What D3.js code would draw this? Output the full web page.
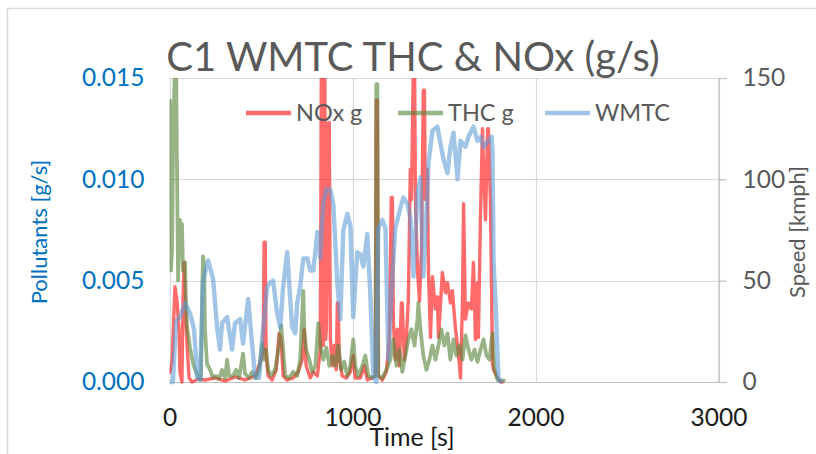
<!DOCTYPE html>
<html>
<head>
<meta charset="utf-8">
<script src="https://cdn.jsdelivr.net/npm/d3@7"></script>
<style>
  body { margin: 0; background: #fff; }
  svg text { font-family: Lato, "Open Sans", sans-serif; }
</style>
</head>
<body>
<svg id="chart" width="816" height="454"></svg>
<script>
// NOx emission rate [g/s] against time [s]
const noxG = [[0,0.0004],[3,0.0005],[14,0.001],[30,0.0047],[41,0.004],[52,0.0026],[57,0.0005],[68,0],[74,0.004],[79,0.0059],[85,0.004],[96,0.0018],[107,0.0002],[123,0],[156,0.00015],[194,0.0001],[249,0.0002],[304,0.00005],[358,0.00025],[413,0.0001],[468,0.0003],[501,0.0011],[512,0.0016],[517,0.0069],[523,0.0069],[528,0.0013],[539,0.0003],[561,0.0001],[583,0.0006],[599,0.0024],[610,0.0021],[621,0.0003],[643,0.0001],[676,0.0002],[703,0.0005],[725,0.0011],[736,0.0026],[747,0.0008],[769,0.0002],[786,0.0005],[808,0.0003],[824,0.0016],[830,0.0159],[836,0.0159],[840,0.0018],[846,0.0159],[849,0.0159],[853,0.0021],[857,0.0026],[868,0.0128],[873,0.0128],[879,0.0021],[890,0.0008],[900,0.0018],[911,0.0006],[917,0.0039],[922,0.0039],[928,0.0011],[944,0.0003],[966,0.0002],[988,0.0005],[1004,0.0013],[1015,0.0002],[1043,0.0002],[1065,0.0008],[1081,0.0001],[1108,0.0002],[1125,0.0003],[1130,0.0139],[1136,0.0139],[1141,0.0003],[1163,0.0001],[1185,0.0005],[1201,0.0021],[1212,0.0091],[1218,0.0091],[1223,0.0031],[1234,0.0011],[1245,0.0026],[1256,0.0008],[1267,0.0039],[1272,0.0039],[1283,0.0011],[1294,0.0021],[1305,0.004],[1316,0.0105],[1322,0.009],[1333,0.0159],[1339,0.0159],[1344,0.009],[1355,0.0055],[1366,0.004],[1377,0.0065],[1387,0.0144],[1393,0.0144],[1398,0.009],[1409,0.0105],[1415,0.0055],[1426,0.0022],[1437,0.0052],[1453,0.0036],[1464,0.0042],[1470,0.0022],[1491,0.0054],[1508,0.0044],[1519,0.0049],[1535,0.0039],[1546,0.0045],[1563,0.0026],[1579,0.0014],[1590,0.0002],[1601,0.004],[1607,0.0088],[1612,0.006],[1617,0.0031],[1634,0.0039],[1650,0.0036],[1661,0.0059],[1672,0.0021],[1683,0.0049],[1688,0.0022],[1699,0.008],[1710,0.0125],[1716,0.0105],[1727,0.008],[1738,0.0125],[1743,0.0125],[1754,0.0088],[1765,0.0009],[1771,0.0006],[1793,0.0002],[1809,0],[1825,0]];

// THC emission rate [g/s] against time [s]
const thcG = [[0,0.0139],[3,0.0139],[8,0.0055],[14,0.0065],[19,0.0114],[30,0.0159],[36,0.0159],[41,0.0105],[47,0.005],[57,0.008],[63,0.0065],[68,0.0078],[74,0.0055],[85,0.0059],[90,0.004],[96,0.0027],[112,0.0017],[129,0.0009],[145,0.0005],[161,0.0002],[172,0.00015],[178,0.004],[183,0.0062],[189,0.0058],[194,0.0026],[205,0.0009],[222,0.0006],[238,0.0002],[254,0.0003],[271,0.00015],[287,0.0006],[304,0.0002],[315,0.0011],[326,0.0003],[348,0.0003],[364,0.0006],[380,0.0002],[402,0.0014],[413,0.0004],[435,0.0002],[452,0.0005],[473,0.0002],[490,0.0006],[506,0.0019],[517,0.0011],[528,0.0016],[539,0.0006],[555,0.0003],[577,0.0006],[599,0.0018],[610,0.0028],[621,0.0016],[632,0.0003],[654,0.0002],[676,0.0005],[698,0.0003],[714,0.0011],[731,0.0045],[736,0.0026],[747,0.0016],[764,0.0011],[780,0.0005],[797,0.0008],[813,0.0029],[824,0.0018],[840,0.0011],[857,0.0017],[873,0.0008],[890,0.0013],[906,0.0008],[922,0.0018],[939,0.0006],[955,0.001],[972,0.0003],[988,0.0008],[1004,0.0021],[1015,0.0008],[1032,0.0003],[1054,0.0008],[1070,0.0013],[1086,0.0003],[1108,0.0002],[1125,0.0003],[1130,0.0147],[1136,0.0147],[1141,0.0003],[1163,0.0002],[1185,0.0006],[1207,0.0011],[1223,0.0021],[1240,0.0008],[1256,0.0016],[1272,0.0005],[1289,0.0013],[1305,0.0021],[1322,0.0026],[1339,0.0018],[1355,0.0031],[1360,0.0039],[1371,0.0026],[1387,0.0013],[1404,0.0006],[1420,0.0011],[1437,0.0018],[1453,0.0011],[1470,0.0018],[1486,0.0026],[1502,0.0018],[1519,0.0024],[1535,0.0011],[1552,0.0021],[1568,0.0013],[1585,0.0018],[1601,0.0011],[1617,0.0023],[1634,0.0016],[1650,0.0011],[1667,0.0016],[1683,0.001],[1700,0.0016],[1716,0.0021],[1732,0.0013],[1749,0.0011],[1760,0.0021],[1765,0.0024],[1776,0.0006],[1793,0.0001],[1836,0.00005]];

// WMTC drive cycle vehicle speed [km/h] against time [s]
const wmtcSpeed = [[0,0],[19,0],[30,20],[36,30],[57,32],[85,39],[112,34],[134,26],[145,12],[151,2],[167,1],[183,50],[211,60],[238,51],[260,27],[276,16],[287,29],[315,32],[342,16],[358,29],[386,31],[402,19],[430,41],[451,19],[468,2],[490,2],[506,21],[534,47],[550,49],[566,50],[588,34],[605,27],[621,47],[643,64],[670,27],[687,24],[698,39],[714,47],[731,61],[753,61],[769,55],[786,55],[808,74],[824,61],[840,88],[857,95],[879,95],[895,88],[917,49],[933,31],[950,75],[972,83],[988,77],[1004,32],[1026,64],[1043,63],[1059,57],[1081,73],[1097,44],[1114,3],[1130,0],[1141,76],[1163,80],[1180,76],[1196,11],[1218,52],[1234,76],[1262,86],[1278,91],[1300,88],[1316,81],[1333,52],[1355,93],[1371,101],[1387,52],[1409,93],[1415,108],[1437,124],[1464,126],[1480,118],[1497,110],[1519,103],[1535,116],[1552,123],[1574,100],[1590,119],[1617,116],[1634,121],[1661,126],[1683,119],[1700,121],[1716,116],[1743,119],[1760,121],[1765,114],[1771,59],[1782,39],[1798,1],[1820,0]];

const timeTicks = [0, 1000, 2000, 3000];
const pollutantTicks = [0, 0.005, 0.010, 0.015];
const speedTicks = [0, 50, 100, 150];
const seriesNames = ["NOx g", "THC g", "WMTC"];

const svg = d3.select("#chart");
const plot = { left: 169.5, right: 718.5, top: 78, bottom: 382 };

const x = d3.scaleLinear().domain([0, 3000]).range([plot.left, plot.right]);
const yL = d3.scaleLinear().domain([0, 0.015]).range([plot.bottom, plot.top]);
const yR = d3.scaleLinear().domain([0, 150]).range([plot.bottom, plot.top]);

// outer chart frame
svg.append("rect")
  .attr("x", 7.5).attr("y", 8.5).attr("width", 900).attr("height", 600)
  .attr("fill", "none").attr("stroke", "#d9d9d9").attr("stroke-width", 1.5);

// gridlines
const grid = svg.append("g").attr("stroke", "#d9d9d9").attr("stroke-width", 1.2);
grid.selectAll("line.h").data(pollutantTicks.slice(1)).join("line")
  .attr("x1", plot.left).attr("x2", plot.right)
  .attr("y1", d => Math.round(yL(d)) + 0.5).attr("y2", d => Math.round(yL(d)) + 0.5);
grid.selectAll("line.v").data(timeTicks).join("line")
  .attr("y1", plot.top).attr("y2", plot.bottom)
  .attr("x1", d => Math.round(x(d)) + 0.5).attr("x2", d => Math.round(x(d)) + 0.5);

// left axis (pollutants)
const axL = svg.append("g").attr("transform", `translate(${plot.left},0)`)
  .call(d3.axisLeft(yL).tickValues(pollutantTicks).tickFormat(d3.format(".3f")).tickSize(0).tickPadding(25));
axL.select(".domain").remove();
axL.selectAll("text").attr("fill", "#0070c0").style("font-size", "24.5px");

// right axis (speed)
const axR = svg.append("g").attr("transform", `translate(${plot.right},0)`)
  .call(d3.axisRight(yR).tickValues(speedTicks).tickSize(8).tickPadding(16));
axR.select(".domain").attr("stroke", "#bfbfbf").attr("stroke-width", 1.2);
axR.selectAll("line").attr("stroke", "#bfbfbf").attr("stroke-width", 1.2);
axR.selectAll("text").attr("fill", "#595959").style("font-size", "24.5px");

// bottom axis (time)
const axB = svg.append("g").attr("transform", `translate(0,${plot.bottom})`)
  .call(d3.axisBottom(x).tickValues(timeTicks).tickFormat(d3.format("d")).tickSize(0).tickPadding(27));
axB.select(".domain").attr("stroke", "#bfbfbf").attr("stroke-width", 1.2)
  .attr("d", `M${plot.left},0.5H${plot.right + 8}`);
axB.selectAll("text").attr("fill", "#1a1a1a").style("font-size", "24.5px");

// series
svg.append("defs").append("clipPath").attr("id", "plotClip")
  .append("rect").attr("x", plot.left).attr("y", plot.top)
  .attr("width", plot.right - plot.left).attr("height", plot.bottom - plot.top + 4);

const lineL = d3.line().x(d => x(d[0])).y(d => yL(d[1]));
const lineR = d3.line().x(d => x(d[0])).y(d => yR(d[1]));
const series = svg.append("g").attr("clip-path", "url(#plotClip)");

const styles = [
  { color: "rgba(255,0,0,0.58)", width: 3.4 },
  { color: "rgba(84,130,53,0.6)", width: 3.8 },
  { color: "rgba(91,155,213,0.58)", width: 4.4 }
];

series.append("path").datum(noxG).attr("d", lineL)
  .attr("fill", "none").attr("stroke", styles[0].color).attr("stroke-width", styles[0].width)
  .attr("stroke-linejoin", "round");
series.append("path").datum(thcG).attr("d", lineL)
  .attr("fill", "none").attr("stroke", styles[1].color).attr("stroke-width", styles[1].width)
  .attr("stroke-linejoin", "round");
series.append("path").datum(wmtcSpeed).attr("d", lineR)
  .attr("fill", "none").attr("stroke", styles[2].color).attr("stroke-width", styles[2].width)
  .attr("stroke-linejoin", "round");

// title
svg.append("text").attr("x", 413).attr("y", 71).attr("text-anchor", "middle")
  .attr("fill", "#595959").style("font-size", "40px")
  .text("C1 WMTC THC & NOx (g/s)");

// axis titles
svg.append("text").attr("transform", "translate(47,232) rotate(-90)")
  .attr("text-anchor", "middle").attr("fill", "#0070c0").style("font-size", "22px")
  .text("Pollutants [g/s]");
svg.append("text").attr("transform", "translate(805,232) rotate(-90)")
  .attr("text-anchor", "middle").attr("fill", "#595959").style("font-size", "22px")
  .text("Speed [kmph]");
svg.append("text").attr("x", 412).attr("y", 446).attr("text-anchor", "middle")
  .attr("fill", "#1a1a1a").style("font-size", "25px")
  .text("Time [s]");

// legend
const legendX = [246, 398, 545];
const legend = svg.append("g");
seriesNames.forEach((name, i) => {
  const g = legend.append("g").attr("transform", `translate(${legendX[i]},113)`);
  g.append("line").attr("x1", 0).attr("x2", 45).attr("y1", 0).attr("y2", 0)
    .attr("stroke", styles[i].color).attr("stroke-width", 4.4);
  g.append("text").attr("x", 50).attr("y", 8).attr("fill", "#595959")
    .style("font-size", "23.5px").text(name);
});
</script>
</body>
</html>
